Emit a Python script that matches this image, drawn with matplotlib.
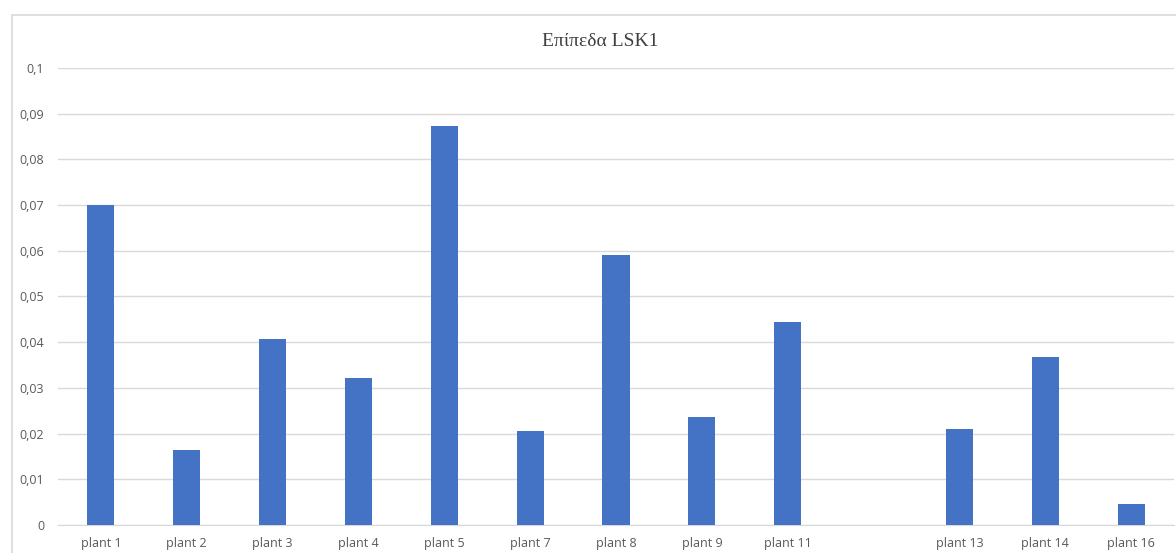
import matplotlib.pyplot as plt
from matplotlib.patches import Rectangle
from matplotlib.ticker import FuncFormatter

# Δεδομένα
plants = ["plant 1", "plant 2", "plant 3", "plant 4", "plant 5", "plant 7",
          "plant 8", "plant 9", "plant 11", "", "plant 13", "plant 14", "plant 16"]
lsk1 = [0.0700, 0.0165, 0.0408, 0.0322, 0.0873, 0.0206,
        0.0590, 0.0237, 0.0445, 0.0, 0.0209, 0.0368, 0.0045]

W, H = 1176, 553
fig = plt.figure(figsize=(W / 100, H / 100), dpi=100)
ax = fig.add_axes([58 / W, 1 - 525 / H, (1174 - 58) / W, (525 - 68) / H])

x = range(len(plants))
ax.bar(x, lsk1, width=0.315, color="#4472c4", zorder=3)

ax.set_xlim(-0.5, len(plants) - 0.5)
ax.set_ylim(0, 0.1)
ax.set_yticks([i / 100 for i in range(11)])
ax.yaxis.set_major_formatter(FuncFormatter(
    lambda v, p: "0" if v == 0 else f"{v:.2f}".rstrip("0").replace(".", ",")))
ax.set_xticks(list(x))
ax.set_xticklabels(plants)

ax.grid(axis="y", color="#d9d9d9", linewidth=1, zorder=0)
for s in ["top", "right", "left"]:
    ax.spines[s].set_visible(False)
ax.spines["bottom"].set_color("#d9d9d9")
ax.tick_params(length=0, labelsize=9, labelcolor="#595959")
ax.tick_params(axis="x", pad=9)
ax.tick_params(axis="y", pad=10)
for lbl in ax.get_xticklabels() + ax.get_yticklabels():
    lbl.set_family("Open Sans")

# bordo del grafico
fig.patches.append(Rectangle((12 / W, -0.1), 1.2, 1.1 - 15 / H,
                             transform=fig.transFigure, fill=False,
                             edgecolor="#d9d9d9", linewidth=1.2))

fig.text(600 / W, 1 - 41 / H, "Επίπεδα LSK1", ha="center", va="center",
         fontsize=14, family="Liberation Serif", color="#404040")

fig.savefig("out.png", dpi=100)
